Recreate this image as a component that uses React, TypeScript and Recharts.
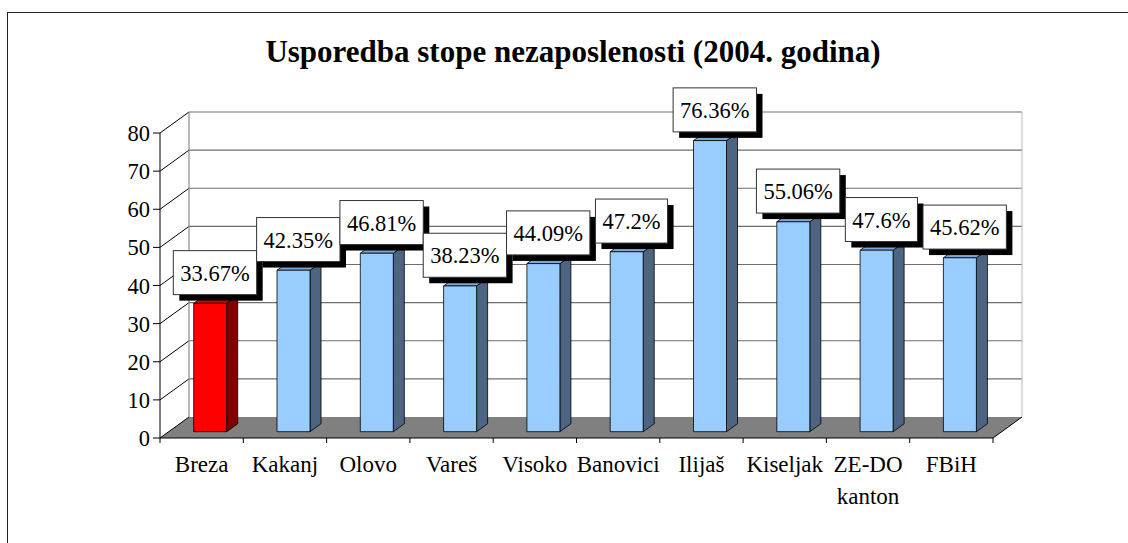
import { Bar, BarChart, CartesianGrid, LabelList, XAxis, YAxis } from 'recharts';

const kategorije = ['Breza', 'Kakanj', 'Olovo', 'Vareš', 'Visoko', 'Banovici', 'Ilijaš', 'Kiseljak', 'ZE-DO kanton', 'FBiH'];
const stope = [33.67, 42.35, 46.81, 38.23, 44.09, 47.2, 76.36, 55.06, 47.6, 45.62];
const yTicks = [0, 10, 20, 30, 40, 50, 60, 70, 80];

const data = kategorije.map((naziv, i) => ({ naziv, stopa: stope[i] }));

const W = 1128;
const H = 543;
const MARGIN = { top: 133, right: 135, bottom: 45, left: 100 };
const Y_AXIS_W = 60;
const X_AXIS_H = 60;
const BAND = (W - MARGIN.left - Y_AXIS_W - MARGIN.right) / kategorije.length;

// dubina 3D okvira
const DX = 29;
const DY = 21;
const FONT = "'Liberation Serif', 'Times New Roman', serif";

const GridLine = (p: any) => {
  const { x1, y1, x2 } = p;
  const top = p.y ?? MARGIN.top;
  const bottom = top + (p.height ?? H - MARGIN.top - MARGIN.bottom - X_AXIS_H);
  if (Math.abs(y1 - bottom) < 0.5) {
    return (
      <g>
        <polygon
          points={`${x1},${y1} ${x2},${y1} ${x2 + DX},${y1 - DY} ${x1 + DX},${y1 - DY}`}
          fill="#808080"
        />
        <line x1={x1} y1={y1} x2={x1 + DX} y2={y1 - DY} stroke="#000" strokeWidth={1} />
        <line x1={x2} y1={y1} x2={x2 + DX} y2={y1 - DY} stroke="#000" strokeWidth={1} />
      </g>
    );
  }
  return (
    <g>
      <line x1={x1} y1={y1} x2={x1 + DX} y2={y1 - DY} stroke="#000" strokeWidth={1} />
      <line x1={x1 + DX} y1={y1 - DY} x2={x2 + DX} y2={y1 - DY} stroke="#6e6e6e" strokeWidth={1.2} />
      {Math.abs(y1 - top) < 0.5 && (
        <>
          <line x1={x1 + DX} y1={y1 - DY} x2={x1 + DX} y2={bottom - DY} stroke="#8a8a8a" strokeWidth={1.2} />
          <line x1={x2 + DX} y1={y1 - DY} x2={x2 + DX} y2={bottom - DY} stroke="#b8b8b8" strokeWidth={1} />
        </>
      )}
    </g>
  );
};

const Stupac = (p: any) => {
  const { x, y, width, height, index } = p;
  const crveni = index === 0;
  const lice = crveni ? '#ff0000' : '#99ccff';
  const bok = crveni ? '#800000' : '#4d6482';
  const vrh = crveni ? '#d40000' : '#7ea7d3';
  const bx = x + DX * 0.3;
  const by = y - DY * 0.3;
  const dx = DX * 0.38;
  const dy = DY * 0.38;
  return (
    <g stroke="#000" strokeWidth={0.8} strokeLinejoin="round">
      <polygon
        points={`${bx + width},${by} ${bx + width + dx},${by - dy} ${bx + width + dx},${by + height - dy} ${bx + width},${by + height}`}
        fill={bok}
      />
      <polygon points={`${bx},${by} ${bx + dx},${by - dy} ${bx + width + dx},${by - dy} ${bx + width},${by}`} fill={vrh} />
      <rect x={bx} y={by} width={width} height={height} fill={lice} />
    </g>
  );
};

const Oznaka = (p: any) => {
  const { x, y, width, value } = p;
  const tekst = `${value}%`;
  const fs = 22.5;
  let em = 0;
  for (const c of tekst) em += c === '.' ? 0.25 : c === '%' ? 0.833 : 0.5;
  const bw = em * fs + 14;
  const bh = 44;
  const cx = x + width / 2 + 13.5;
  const bottom = y - 15;
  return (
    <g>
      <rect x={cx - bw / 2 + 6} y={bottom - bh + 6} width={bw} height={bh} fill="#000" />
      <rect x={cx - bw / 2} y={bottom - bh} width={bw} height={bh} fill="#fff" stroke="#333" strokeWidth={1} />
      <text
        x={cx}
        y={bottom - bh / 2 + 8}
        textAnchor="middle"
        fontSize={fs}
        style={{ fontFamily: FONT }}
        fill="#000"
      >
        {tekst}
      </text>
    </g>
  );
};

const XTick = (p: any) => {
  const { x, y, payload, index } = p;
  const redovi = String(payload.value).split(' ');
  const last = index === kategorije.length - 1;
  return (
    <g>
      <line x1={x - BAND / 2} y1={y} x2={x - BAND / 2} y2={y + 5} stroke="#000" />
      {last && <line x1={x + BAND / 2} y1={y} x2={x + BAND / 2} y2={y + 5} stroke="#000" />}
      {redovi.map((r, i) => (
        <text key={i} x={x} y={y + 34 + i * 32} textAnchor="middle" fontSize={23} style={{ fontFamily: FONT }} fill="#000">
          {r}
        </text>
      ))}
    </g>
  );
};

const YTick = (p: any) => {
  const { x, y, payload } = p;
  return (
    <text x={x} y={y + 8} textAnchor="end" fontSize={22.5} style={{ fontFamily: FONT }} fill="#000">
      {payload.value}
    </text>
  );
};

export default function App() {
  return (
    <div style={{ position: 'relative', width: W, height: H, overflow: 'hidden', background: '#fff' }}>
      <style>{`body{margin:0;overflow:hidden} svg text{font-family:${FONT}}`}</style>
      <div
        style={{
          position: 'absolute',
          left: 7,
          top: 12,
          width: 1300,
          height: 700,
          borderLeft: '1.5px solid #222',
          borderTop: '1.5px solid #222',
        }}
      />
      <div
        style={{
          position: 'absolute',
          left: 0,
          top: 36,
          width: 1146,
          textAlign: 'center',
          fontFamily: FONT,
          fontWeight: 'bold',
          fontSize: 31,
          lineHeight: '31px',
          color: '#000',
        }}
      >
        Usporedba stope nezaposlenosti (2004. godina)
      </div>
      <div style={{ position: 'absolute', left: 0, top: 0 }}>
        <BarChart width={W} height={H} data={data} margin={MARGIN} barSize={33}>
          <CartesianGrid vertical={false} horizontal={GridLine} />
          <XAxis
            dataKey="naziv"
            height={X_AXIS_H}
            interval={0}
            tickLine={false}
            tickSize={0}
            tickMargin={0}
            axisLine={{ stroke: '#000' }}
            tick={XTick}
          />
          <YAxis
            width={Y_AXIS_W}
            domain={[0, 80]}
            ticks={yTicks}
            interval={0}
            tickSize={7}
            tickMargin={3}
            axisLine={{ stroke: '#000' }}
            tickLine={{ stroke: '#000' }}
            tick={YTick}
          />
          <Bar dataKey="stopa" shape={Stupac} isAnimationActive={false}>
            <LabelList dataKey="stopa" content={Oznaka} />
          </Bar>
        </BarChart>
      </div>
    </div>
  );
}
